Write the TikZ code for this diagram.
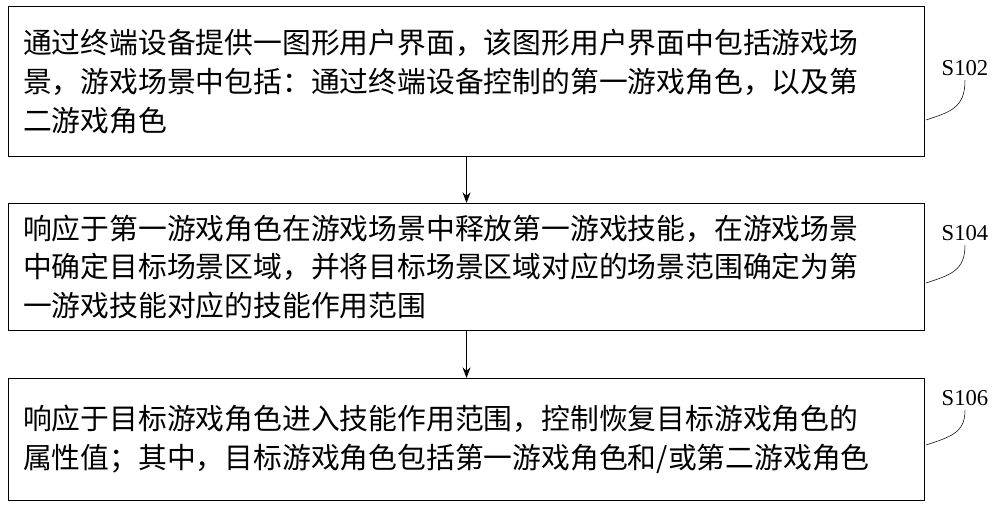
\documentclass[tikz,border=0pt]{standalone}
\usepackage{fontspec}
\setmainfont{Liberation Serif}
\newfontfamily\cjk{Noto Sans CJK SC}
\usetikzlibrary{positioning,arrows.meta}
\tikzset{
	stepbox/.style={draw,thick,minimum width=687pt,anchor=north west,align=left,text width=665pt,inner xsep=11pt,font=\cjk\fontsize{21.6}{29}\selectfont},
	steplabel/.style={font=\fontsize{17}{20}\selectfont}
}
\begin{document}
\begin{tikzpicture}[x=0.75pt,y=-0.75pt]
	\useasboundingbox (0,0) rectangle (1000,508);
	\node [stepbox,minimum height=112.5pt] (s1) at (8,6) {通过终端设备提供一图形用户界面，该图形用户界面中包括游戏场\\景，游戏场景中包括：通过终端设备控制的第一游戏角色，以及第\\二游戏角色};
	\node [stepbox,minimum height=95pt] (s2) at (8,203) {响应于第一游戏角色在游戏场景中释放第一游戏技能，在游戏场景\\中确定目标场景区域，并将目标场景区域对应的场景范围确定为第\\一游戏技能对应的技能作用范围};
	\node [stepbox,minimum height=91.5pt] (s3) at (8,378) {响应于目标游戏角色进入技能作用范围，控制恢复目标游戏角色的\\属性值；其中，目标游戏角色包括第一游戏角色和/或第二游戏角色};
	\draw [thick,-{Stealth[length=8pt]}] (s1.south) -- (s2.north);
	\draw [thick,-{Stealth[length=8pt]}] (s2.south) -- (s3.north);
	\node [steplabel] (l1) at (965,68) {S102};
	\node [steplabel] (l2) at (965,233) {S104};
	\node [steplabel] (l3) at (965,398) {S106};
	\draw (926,120) .. controls (950,112) and (965,108) .. (l1.south);
	\draw (926,283) .. controls (950,275) and (965,271) .. (l2.south);
	\draw (926,445) .. controls (950,437) and (965,433) .. (l3.south);
\end{tikzpicture}
\end{document}
